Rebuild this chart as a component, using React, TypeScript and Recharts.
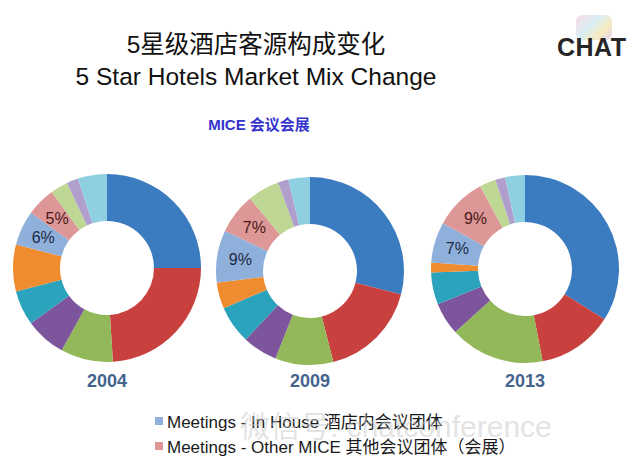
import { Cell, Pie, PieChart } from 'recharts';

const segments = [
  'Corporate',
  'Leisure FIT',
  'Leisure Group',
  'Government',
  'Long Stay',
  'Airline Crew',
  'Meetings - In House',
  'Meetings - Other MICE',
  'Wholesale',
  'Online',
  'Other',
];

const colors = ['#3b7bbf', '#c8413e', '#92b85a', '#7d559c', '#2ba3bd', '#f08c30', '#8fb0da', '#dc9796', '#bed795', '#b09fcc', '#8fcfe2'];

const years = ['2004', '2009', '2013'];
const share2004 = [25, 24, 9, 7, 6, 8, 6, 5, 3, 2, 5];
const share2009 = [29, 17, 10, 6, 6.5, 4.5, 9, 7, 5.5, 1.8, 3.7];
const share2013 = [34, 13, 16.3, 5.6, 5.5, 1.7, 7, 9, 2.8, 1.7, 3.4];

const labelled = [6, 7];
const legendItems = ['Meetings - In House 酒店内会议团体', 'Meetings - Other MICE 其他会议团体（会展）'];

const toRows = (values: number[]) => segments.map((name, i) => ({ name, value: values[i] }));
const donuts = [
  { year: years[0], data: toRows(share2004), cx: 107, cy: 268 },
  { year: years[1], data: toRows(share2009), cx: 310, cy: 271 },
  { year: years[2], data: toRows(share2013), cx: 525, cy: 269 },
];

const RADIAN = Math.PI / 180;
const font = '"Liberation Sans", Arial, Helvetica, sans-serif';
const cjkFont = `${font}, "Noto Sans CJK SC"`;

function SliceLabel(props: any) {
  const { cx, cy, midAngle, innerRadius, outerRadius, index, value } = props;
  if (!labelled.includes(index)) return null;
  const r = (innerRadius + outerRadius) / 2;
  const x = cx + r * Math.cos(-midAngle * RADIAN);
  const y = cy + r * Math.sin(-midAngle * RADIAN);
  return (
    <text x={x} y={y} textAnchor="middle" dominantBaseline="central" fontFamily={font} fontSize={16} fill={index === 6 ? '#1c2b45' : '#4a1a1a'}>
      {Math.round(value)}%
    </text>
  );
}

export default function App() {
  return (
    <div style={{ position: 'relative', width: 640, height: 459, background: '#fff', fontFamily: font, overflow: 'hidden' }}>
      <style>{'body{margin:0}'}</style>
      <div style={{ position: 'absolute', left: 0, width: 512, top: 29, textAlign: 'center', fontSize: 24.5, lineHeight: '32px', color: '#111', fontFamily: cjkFont }}>
        5星级酒店客源构成变化
        <br />
        5 Star Hotels Market Mix Change
      </div>
      <div style={{ position: 'absolute', left: 0, width: 518, top: 113, textAlign: 'center', fontSize: 15, fontWeight: 700, color: '#3434cc', fontFamily: cjkFont }}>
        MICE 会议会展
      </div>
      <div style={{ position: 'absolute', left: 576, top: 15, width: 36, height: 25, borderRadius: 6, background: 'linear-gradient(135deg, #f7c9d8, #c9e6f2 40%, #f3e3a6 70%, #d7c5ee)', opacity: 0.7 }} />
      <div style={{ position: 'absolute', left: 557, top: 33, fontSize: 25, fontWeight: 700, color: '#262626', letterSpacing: 0.5 }}>CHAT</div>

      <PieChart width={640} height={459} margin={{ top: 0, right: 0, bottom: 0, left: 0 }} style={{ position: 'absolute', left: 0, top: 0 }}>
        {donuts.map((d) => (
          <Pie
            key={d.year}
            data={d.data}
            dataKey="value"
            nameKey="name"
            cx={d.cx}
            cy={d.cy}
            innerRadius={47}
            outerRadius={94}
            startAngle={90}
            endAngle={-270}
            stroke="none"
            label={SliceLabel}
            labelLine={false}
            isAnimationActive={false}
          >
            {d.data.map((row, i) => (
              <Cell key={row.name} fill={colors[i]} />
            ))}
          </Pie>
        ))}
      </PieChart>

      {donuts.map((d) => (
        <div key={d.year} style={{ position: 'absolute', left: d.cx - 40, width: 80, top: 371, textAlign: 'center', fontSize: 18, fontWeight: 700, color: '#45648d' }}>
          {d.year}
        </div>
      ))}

      {legendItems.map((item, i) => (
        <div key={item} style={{ position: 'absolute', left: 155, top: 408 + i * 25, display: 'flex', alignItems: 'center', fontSize: 17, color: '#1a1a1a', fontFamily: cjkFont, whiteSpace: 'nowrap' }}>
          <span style={{ display: 'inline-block', width: 8, height: 8, marginRight: 4, background: colors[6 + i] }} />
          {item}
        </div>
      ))}
      <div style={{ position: 'absolute', left: 240, top: 402, fontSize: 30, color: 'rgba(200,200,200,0.5)', fontFamily: cjkFont, whiteSpace: 'nowrap', pointerEvents: 'none' }}>
        微信号: chatconference
      </div>
    </div>
  );
}
